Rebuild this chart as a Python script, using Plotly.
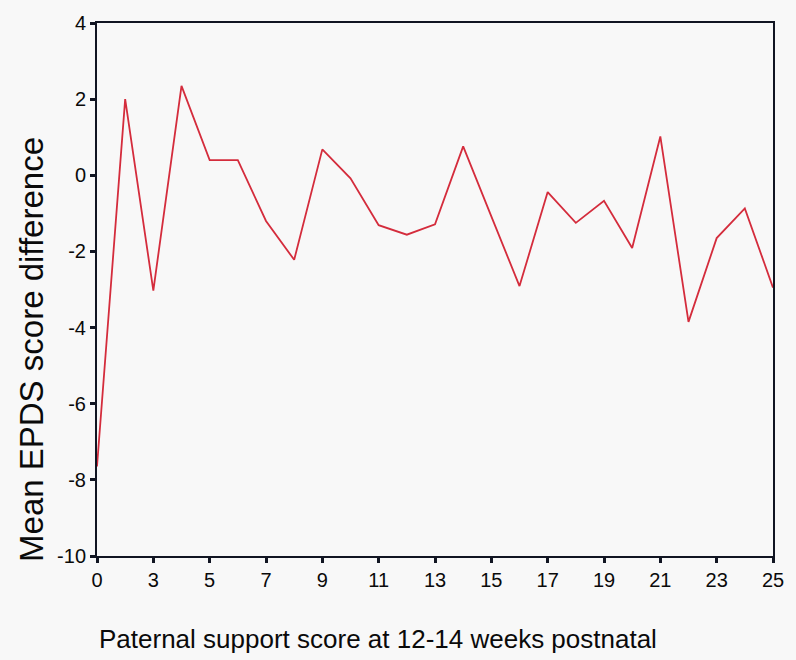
import plotly.graph_objects as go

# Categories present on the x axis (score 1 absent)
scores = ["0", "2", "3", "4", "5", "6", "7", "8", "9", "10", "11", "12", "13",
          "14", "15", "16", "17", "18", "19", "20", "21", "22", "23", "24", "25"]
mean_diff = [-7.65, 2.0, -3.03, 2.35, 0.4, 0.4, -1.2, -2.22, 0.68, -0.08, -1.31,
             -1.56, -1.29, 0.76, -1.08, -2.91, -0.44, -1.25, -0.67, -1.91, 1.02,
             -3.85, -1.65, -0.87, -2.95]
x_tick_labels = ["0", "3", "5", "7", "9", "11", "13", "15", "17", "19", "21", "23", "25"]
y_ticks = [-10, -8, -6, -4, -2, 0, 2, 4]
y_tick_labels = ["-10", "-8", "-6", "-4", "-2", "0", "2", "4"]

x_title = "Paternal support score at 12-14 weeks postnatal"
y_title = "Mean EPDS score difference"

fig = go.Figure()
fig.add_trace(go.Scatter(
    x=scores, y=mean_diff, mode="lines",
    line=dict(color="#d42c3c", width=1.8),
    showlegend=False,
))

axis_common = dict(
    showgrid=False, zeroline=False, showline=True, mirror=True,
    linecolor="#111522", linewidth=2,
    ticks="outside", ticklen=5, tickwidth=2.5, tickcolor="#111522",
)

fig.update_layout(
    width=796, height=660,
    margin=dict(l=97, r=15, t=16, b=104),
    paper_bgcolor="#f8f8f8", plot_bgcolor="#f8f8f8",
    font=dict(family="Liberation Sans, Arial, sans-serif", color="#0a0a0a"),
    xaxis=dict(
        type="category", categoryorder="array", categoryarray=scores,
        range=[0, len(scores) - 1],
        tickmode="array", tickvals=x_tick_labels, ticktext=x_tick_labels,
        tickfont=dict(size=20), **axis_common,
    ),
    yaxis=dict(
        range=[-10, 4], tickmode="array", tickvals=y_ticks, ticktext=y_tick_labels,
        tickfont=dict(size=20), **axis_common,
    ),
    annotations=[
        dict(text=x_title, xref="paper", yref="paper", x=0.415, y=-0.1556,
             xanchor="center", yanchor="middle", showarrow=False,
             font=dict(size=26, color="#0a0a0a")),
        dict(text=y_title, xref="paper", yref="paper", x=-0.098, y=0.388,
             xanchor="center", yanchor="middle", showarrow=False, textangle=-90,
             font=dict(size=33, color="#0a0a0a")),
    ],
)

fig.write_html("out.html")
